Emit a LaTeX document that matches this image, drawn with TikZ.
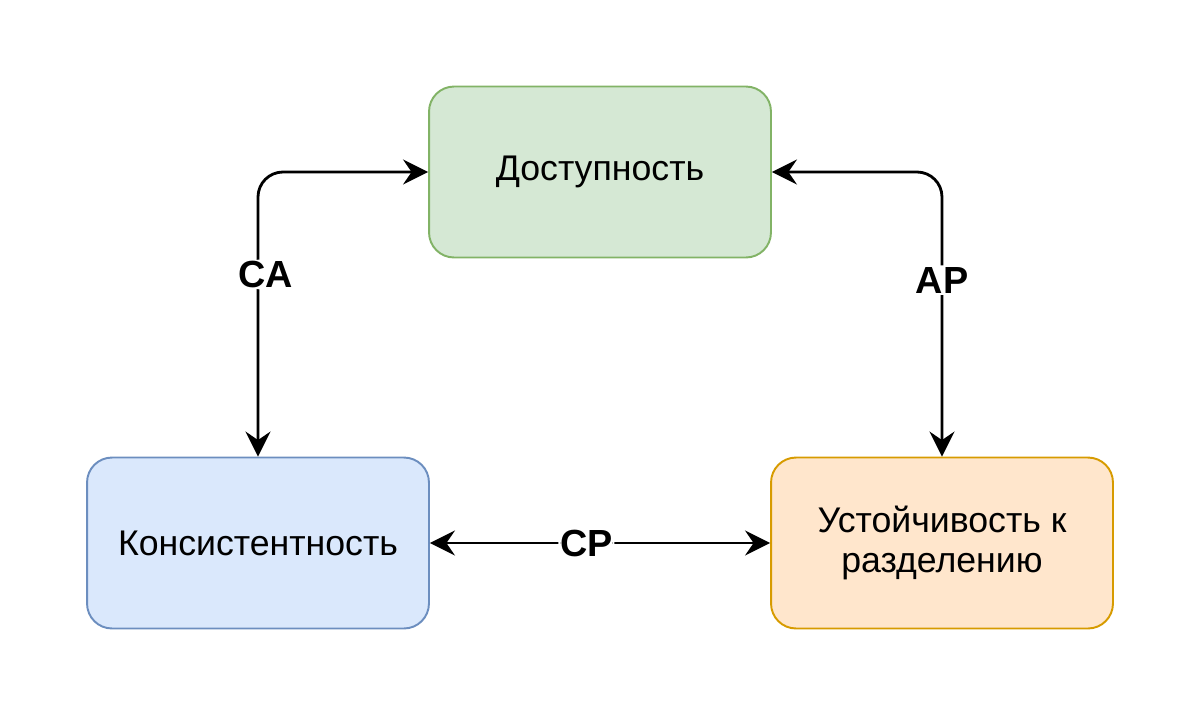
\documentclass[tikz,border=0pt]{standalone}
\usepackage{fontspec}
\setmainfont{Liberation Sans}
\usetikzlibrary{arrows.meta,calc}
\definecolor{grfill}{HTML}{D5E8D4}
\definecolor{grline}{HTML}{82B366}
\definecolor{blfill}{HTML}{DAE8FC}
\definecolor{blline}{HTML}{6C8EBF}
\definecolor{orfill}{HTML}{FFE6CC}
\definecolor{orline}{HTML}{D79B00}
\tikzset{
  capbox/.style={rounded corners=0.5cm, line width=1.1pt, minimum width=6.84cm,
    minimum height=3.42cm, align=center, font=\fontsize{20.3}{23}\selectfont},
  link/.style={line width=1.6pt, {Stealth[length=0.5cm,width=0.5cm,inset=0.17cm]}-{Stealth[length=0.5cm,width=0.5cm,inset=0.17cm]}, rounded corners=0.5cm},
  tag/.style={fill=white, inner sep=1pt, font=\fontsize{21.5}{25}\selectfont\bfseries}
}
\begin{document}
\begin{tikzpicture}[x=0.02cm, y=-0.02cm]
      \useasboundingbox (0,0) rectangle (1200,718);
      \node[capbox, fill=grfill, draw=grline] (dost) at (600,172) {Доступность};
      \node[capbox, fill=blfill, draw=blline] (kons) at (258,543) {Консистентность};
      \node[capbox, fill=orfill, draw=orline] (ust) at (942,543) {Устойчивость к\\разделению};

      \draw[link] (dost.west) -| (kons.north) node[tag, pos=0.68, xshift=0.16cm] {CA};
      \draw[link] (dost.east) -| (ust.north) node[tag, pos=0.69] {AP};
      \draw[link] (kons.east) -- (ust.west) node[tag, pos=0.46] {CP};
    \end{tikzpicture}
\end{document}
